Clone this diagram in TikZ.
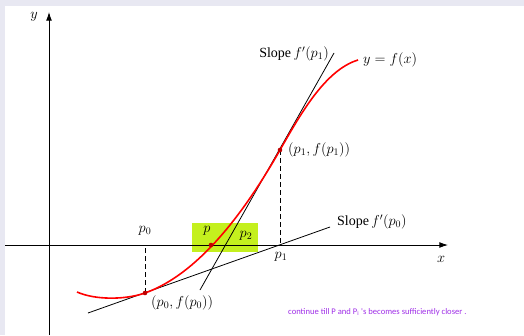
\documentclass[tikz,border=0pt]{standalone}
\usepackage{amsmath,amssymb}
\usepackage{fontspec}
\setmainfont{Liberation Serif}
\newfontfamily\notefont{Carlito}
\usetikzlibrary{arrows.meta}
\definecolor{bandgray}{HTML}{E8E8F2}
\definecolor{limebox}{HTML}{C4F01E}
\definecolor{notepurple}{HTML}{A030E8}

\begin{document}
\begin{tikzpicture}[x=1pt, y=-1pt, every node/.style={font=\fontsize{14}{16}\selectfont, inner sep=1pt}, >={Latex[length=3mm, width=2mm]}]
	\fill[bandgray] (0,0) rectangle (524,335);
	\fill[white] (5,6) rectangle (524,335);
	\useasboundingbox (0,0) rectangle (524,335);
	\fill[limebox] (192,223) rectangle (258,252);
	\coordinate (O) at (49,245);
	\coordinate (xend) at (448,245);
	\coordinate (xstart) at (5,245);
	\coordinate (ystart) at (49,335);
	\coordinate (yend) at (49,12);
	\coordinate (P0) at (145,293);
	\coordinate (P1) at (280,150);
	\coordinate (P) at (211,245);
	\coordinate (X0) at (145,245);
	\coordinate (X1) at (280,245);
	\coordinate (T0a) at (88,313);
	\coordinate (T0b) at (330,227);
	\coordinate (T1a) at (200,290);
	\coordinate (T1b) at (334,53);
	\draw[thick, ->] (xstart) -- (xend);
	\draw[thick, ->] (ystart) -- (yend);
	\node (ylbl) at (34,17) {$y$};
	\node (xlbl) at (441,259) {$x$};
	\draw[thick] (T0a) -- (T0b);
	\draw[thick] (T1a) -- (T1b);
	\draw[thick, dashed, dash pattern=on 5pt off 3pt] (P0) -- (X0);
	\draw[thick, dashed, dash pattern=on 5pt off 3pt] (P1) -- (X1);
	\draw[red, line width=1.6pt] (77,292) .. controls (95,300) and (125,300) .. (P0)
		.. controls (190,277) and (235,229) .. (P1)
		.. controls (300,115) and (325,70) .. (358,60);
	\fill[red!75!black] (P0) circle (2.3pt);
	\fill[red!75!black] (P) circle (2.3pt);
	\fill[red!75!black] (P1) circle (2.3pt);
	\node (p0lbl) at (145,231) {$p_0$};
	\node (plbl) at (207,231) {$p$};
	\node (p2lbl) at (246,236) {$p_2$};
	\node (p1lbl) at (281,257) {$p_1$};
	\node[anchor=west] (pt0lbl) at (150,303) {$(p_0, f(p_0))$};
	\node[anchor=west] (pt1lbl) at (287,150) {$(p_1, f(p_1))$};
	\node[anchor=west] (s0lbl) at (336,222) {Slope\,$f'(p_0)$};
	\node[anchor=east] (s1lbl) at (330,54) {Slope\,$f'(p_1)$};
	\node[anchor=west] (flbl) at (362,60) {$y=f(x)$};
	\node[notepurple, font=\notefont\fontsize{8.6}{10}\selectfont, anchor=west] (note) at (287,312) {continue till P and P$_{\text{i}}$ 's becomes sufficiently closer .};
\end{tikzpicture}
\end{document}
